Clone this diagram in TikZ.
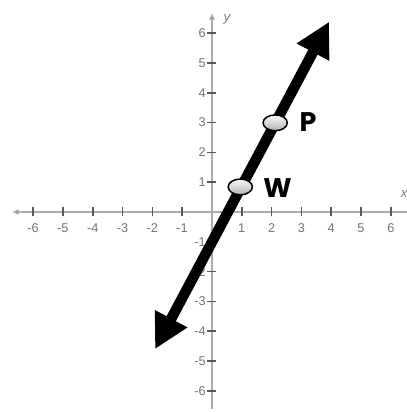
\documentclass[tikz,border=0pt]{standalone}
\usepackage{fontspec}
\setmainfont{Liberation Sans}
\newfontfamily\ptfont{Poppins}
\usetikzlibrary{arrows.meta,shapes.geometric}

\begin{document}
\begin{tikzpicture}[
    x=0.7cm, y=0.7cm,
    axis/.style={draw=gray!65, line width=1.4pt, -{Latex[length=1.6mm, width=1.5mm, fill=black!70]}},
    tick/.style={draw=black!65, line width=1.1pt},
    num/.style={text=black!55, font=\fontsize{8.5}{9}\selectfont, inner sep=1pt},
    axlbl/.style={text=black!50, font=\itshape\fontsize{9}{10}\selectfont},
    bigarr/.style={line width=7pt, {Triangle[length=23pt, width=23pt]}-{Triangle[length=23pt, width=23pt]}},
    pt/.style={ellipse, draw, line width=1pt, minimum width=0.57cm, minimum height=0.37cm,
        inner sep=0pt, top color=gray!5, bottom color=gray!60},
    ptlbl/.style={font=\ptfont\bfseries\fontsize{18}{20}\selectfont}
]
\useasboundingbox (-7.11,-6.71) rectangle (6.54,7.11);
% axes
\coordinate (xl) at (-6.71,0);
\coordinate (xr) at (6.54,0);
\coordinate (yb) at (0,-6.6);
\coordinate (yt) at (0,6.68);
\draw[axis] (xr) -- (xl);
\draw[axis] (yb) -- (yt);
\node[axlbl] (ylbl) at (0.5,6.45) {y};
\node[axlbl] (xlbl) at (6.45,0.6) {x};
\foreach \i in {-6,...,-1,1,2,...,6} {
    \draw[tick] (\i,-0.15) -- (\i,0.15);
    \draw[tick] (-0.15,\i) -- (0.15,\i);
}
\foreach \i in {1,...,6} {
    \node[num] at (\i,-0.55) {\i};
    \node[num] at (-\i,-0.55) {-\i};
    \node[num, anchor=east] at (-0.15,\i) {\i};
    \node[num, anchor=east] at (-0.15,-\i) {-\i};
}
% line through W and P
\coordinate (lo) at (-1.91,-4.6);
\coordinate (hi) at (3.93,6.38);
\draw[bigarr] (lo) -- (hi);
\node[pt] (W) at (0.95,0.84) {};
\node[pt] (P) at (2.12,2.99) {};
\node[ptlbl] (wlbl) at (2.2,0.8) {W};
\node[ptlbl] (plbl) at (3.22,3.0) {P};
\end{tikzpicture}
\end{document}
